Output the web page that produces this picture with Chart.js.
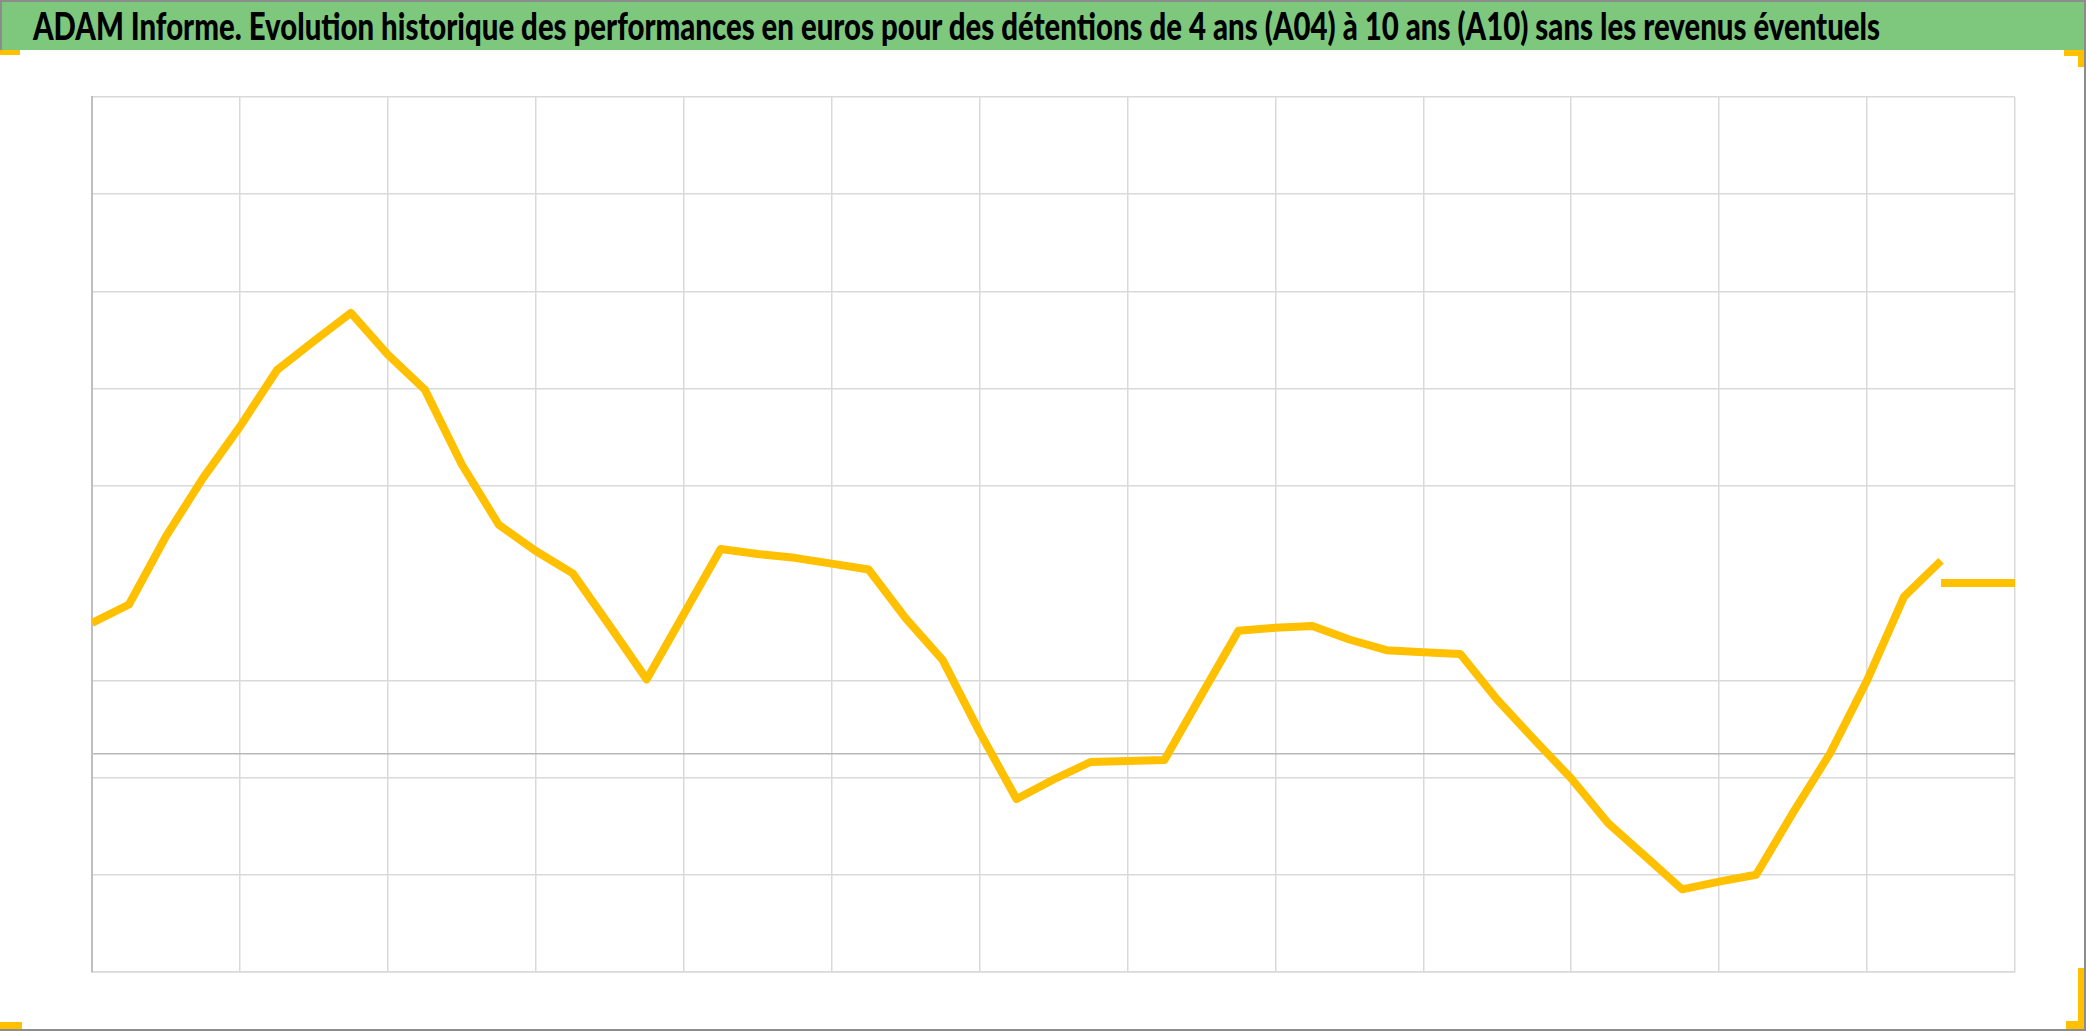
<!DOCTYPE html>
<html lang="fr">
<head>
    <meta charset="UTF-8" />
    <title>ADAM Informe</title>
    <script src="https://cdn.jsdelivr.net/npm/chart.js"></script>
    <style>
        html, body {
            margin: 0;
            padding: 0;
            background: #fff;
            overflow: hidden;
        }

        .cadre {
            position: relative;
            width: 2086px;
            height: 1031px;
            box-sizing: border-box;
            border-right: 2px solid #8c8c8c;
            border-bottom: 2px solid #8c8c8c;
        }

        .titre {
            position: absolute;
            left: 0;
            top: 0;
            width: 2084px;
            height: 50px;
            box-sizing: border-box;
            background: #7ec87e;
            border-top: 2px solid #8c8c8c;
            border-left: 2px solid #8c8c8c;
            z-index: 2;
            white-space: nowrap;
        }

        .titre span {
            position: absolute;
            left: 31px;
            top: 2px;
            font-family: Lato, 'Liberation Sans', sans-serif;
            font-weight: 900;
            font-size: 38px;
            line-height: 42px;
            color: #000;
            transform-origin: 0 0;
        }

        .graphe {
            position: absolute;
            left: 0;
            top: 0;
            width: 2084px;
            height: 1029px;
        }

        .coin {
            position: absolute;
            background: #ffc000;
            z-index: 3;
        }
    </style>
</head>
<body>

<div class="cadre">
    <div class="titre"><span id="titreTexte">ADAM Informe. Evolution historique des performances en euros pour des détentions de 4 ans (A04) à 10 ans (A10) sans les revenus éventuels</span></div>
    <div class="graphe">
        <canvas id="perfChart"></canvas>
    </div>
    <!-- poignées de sélection jaunes -->
    <div class="coin" style="left:0;top:50px;width:20px;height:5px"></div>
    <div class="coin" style="left:2064px;top:50px;width:20px;height:6px"></div>
    <div class="coin" style="left:2078px;top:50px;width:6px;height:17px"></div>
    <div class="coin" style="left:0;top:1022px;width:22px;height:7px"></div>
    <div class="coin" style="left:2066px;top:1021px;width:18px;height:8px"></div>
    <div class="coin" style="left:2078px;top:968px;width:6px;height:61px"></div>
</div>

<script>
    // performance relevée trimestre par trimestre (échelle : une unité = un quadrillage)
    const valeurs = [
        3.59, 3.78, 4.48, 5.08, 5.61, 6.19, 6.49, 6.78, 6.35, 5.99,
        5.22, 4.60, 4.33, 4.10, 3.56, 3.01, 3.68, 4.35, 4.30, 4.26,
        4.20, 4.14, 3.64, 3.21, 2.47, 1.78, 1.98, 2.16, 2.17, 2.18,
        2.85, 3.51, 3.54, 3.56, 3.42, 3.31, 3.29, 3.27, 2.80, 2.39,
        1.99, 1.53, 1.19, 0.85, 0.93, 1.00, 1.64, 2.25, 3.00, 3.86,
        4.23
    ];

    // niveau de référence prolongé en fin de période
    const niveauFinal = [4.00, 4.00];
    const periodesFinales = [50, 52];

    const nbPeriodes = 52;      // trimestres sur l'axe
    const pasQuadrillage = 4;   // un trait vertical par an
    const lignesHorizontales = [0, 1, 2, 3, 5, 6, 7, 8, 9];
    const axeHorizontal = 2.25;

    // ajuste la largeur du titre
    const titre = document.getElementById('titreTexte');
    const largeur = titre.getBoundingClientRect().width;
    titre.style.transform = 'scaleX(' + (1847 / largeur) + ')';

    const ctx = document.getElementById('perfChart').getContext('2d');

    new Chart(ctx, {
        type: 'line',
        data: {
            datasets: [
                {
                    label: 'Performance',
                    data: valeurs.map((v, i) => ({ x: i, y: v })),
                    borderColor: '#ffc000',
                    backgroundColor: '#ffc000',
                    borderWidth: 8,
                    pointRadius: 0,
                    tension: 0,
                    borderJoinStyle: 'round'
                },
                {
                    label: 'Niveau',
                    data: niveauFinal.map((v, i) => ({ x: periodesFinales[i], y: v })),
                    borderColor: '#ffc000',
                    borderWidth: 8,
                    pointRadius: 0,
                    tension: 0
                }
            ]
        },
        options: {
            responsive: true,
            maintainAspectRatio: false,
            animation: false,
            layout: {
                padding: { left: 92, right: 69, top: 97, bottom: 57 }
            },
            plugins: {
                legend: { display: false },
                title: { display: false },
                tooltip: { enabled: false }
            },
            scales: {
                x: {
                    type: 'linear',
                    min: 0,
                    max: nbPeriodes,
                    ticks: { display: false, stepSize: pasQuadrillage },
                    grid: { color: '#d9d9d9', lineWidth: 1.5, drawTicks: false },
                    border: { display: true, color: '#d9d9d9', width: 1.5 }
                },
                y: {
                    min: 0,
                    max: 9,
                    afterBuildTicks: axis => {
                        axis.ticks = lignesHorizontales.concat([axeHorizontal]).map(v => ({ value: v }));
                    },
                    ticks: { display: false },
                    grid: {
                        drawTicks: false,
                        lineWidth: 1.5,
                        color: c => (c.tick && c.tick.value === axeHorizontal) ? '#b8b8b8' : '#d9d9d9'
                    },
                    border: { display: true, color: '#bfbfbf', width: 2 }
                }
            }
        }
    });
</script>

</body>
</html>
